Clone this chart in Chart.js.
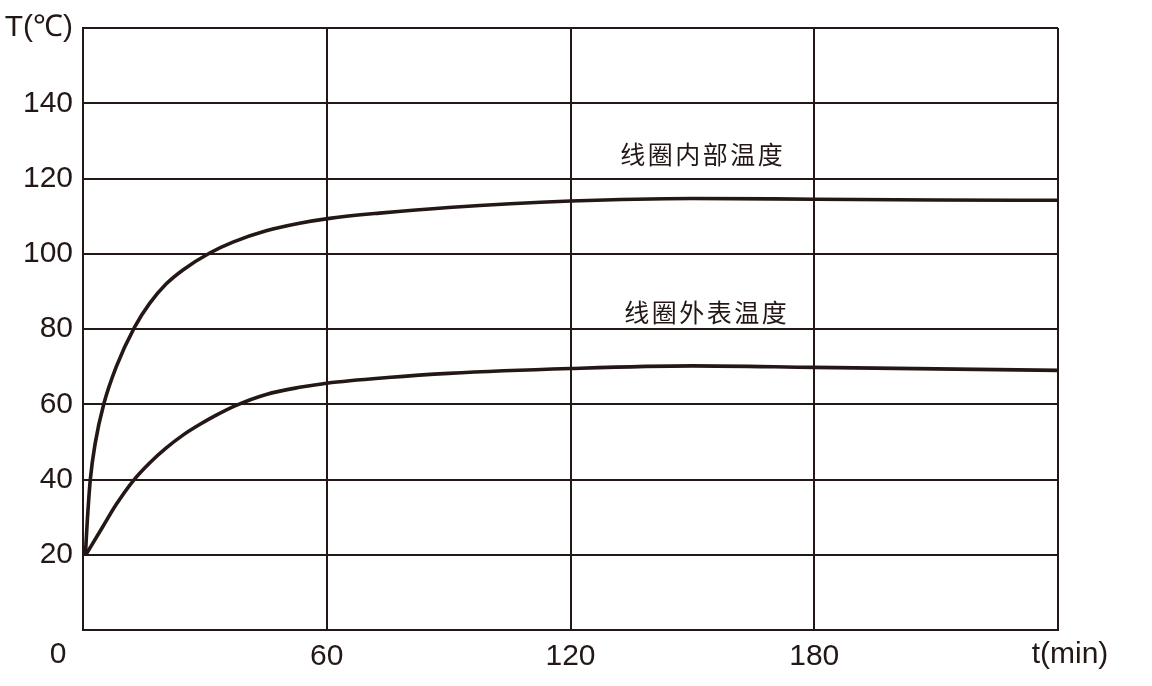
<!DOCTYPE html>
<html>
<head>
<meta charset="utf-8">
<script src="https://cdn.jsdelivr.net/npm/chart.js@4.4.1/dist/chart.umd.min.js"></script>
<style>
html,body{margin:0;padding:0;background:#fff;}
#wrap{width:1152px;height:686px;position:relative;}
</style>
</head>
<body>
<div id="wrap"><canvas id="c" width="1152" height="686"></canvas></div>
<script>
// time (min) and temperature (°C)
const innerTime = [0.6, 1.0, 1.8, 3, 5.1, 8.2, 12.7, 16.4, 20.5, 24.6, 31.2, 36.9, 45.1, 53.3, 60.7, 73, 90, 120, 150, 180, 210, 240];
const innerTemp = [20, 28, 40, 49.6, 60, 70, 80.5, 86.8, 92, 95.7, 100.2, 103.1, 106.1, 108.1, 109.4, 110.8, 112.3, 114, 114.7, 114.5, 114.3, 114.2];
const outerTime = [0.7, 4.9, 8.2, 12.3, 16.4, 20.5, 24.6, 28.7, 32.8, 37.7, 45.1, 53.3, 60, 75, 90, 120, 150, 180, 210, 240];
const outerTemp = [20, 27.5, 33.4, 39.6, 44.4, 48.4, 51.8, 54.6, 57.1, 59.7, 62.6, 64.5, 65.6, 67.1, 68.2, 69.5, 70.2, 69.8, 69.4, 69.0];
const seriesNames = ['线圈内部温度', '线圈外表温度'];
const yTicks = [0, 20, 40, 60, 80, 100, 120, 140, 160];
const xTicks = [0, 60, 120, 180, 240];
const yAxisTitle = 'T(℃)';
const xAxisTitle = 't(min)';
const originLabel = '0';

const INK = '#231815';
const FONT = '"Liberation Sans", Arial, sans-serif';

function pts(xs, ys){ return xs.map((x,i)=>({x:x, y:ys[i]})); }

const labelPlugin = {
  id: 'labels',
  afterDraw(chart){
    const ctx = chart.ctx, xs = chart.scales.x, ys = chart.scales.y;
    ctx.save();
    ctx.fillStyle = INK;
    ctx.font = '30px ' + FONT;
    ctx.textAlign = 'center';
    ctx.textBaseline = 'middle';
    const ly = ys.getPixelForValue(0) + 25;
    ctx.fillText(originLabel, xs.getPixelForValue(0) - 25, ly);
    ctx.fillText(xAxisTitle, xs.getPixelForValue(240) + 12, ly);
    // series annotations
    ctx.font = '25px "Noto Sans CJK SC", sans-serif';
    ctx.letterSpacing = '2.5px';
    const ann = [[152.3, 126.5], [153.3, 84.5]];
    seriesNames.forEach((n, i) => {
      ctx.fillText(n, xs.getPixelForValue(ann[i][0]) + 1, ys.getPixelForValue(ann[i][1]));
    });
    ctx.restore();
  }
};

new Chart(document.getElementById('c'), {
  type: 'line',
  data: {
    datasets: [
      { label: seriesNames[0], data: pts(innerTime, innerTemp), borderColor: INK, borderWidth: 3.6, pointRadius: 0, cubicInterpolationMode: 'monotone', fill: false },
      { label: seriesNames[1], data: pts(outerTime, outerTemp), borderColor: INK, borderWidth: 3.6, pointRadius: 0, cubicInterpolationMode: 'monotone', fill: false }
    ]
  },
  options: {
    responsive: false,
    animation: false,
    events: [],
    layout: { padding: { top: 25, right: 94, left: 0, bottom: 0 } },
    plugins: { legend: { display: false }, tooltip: { enabled: false } },
    scales: {
      x: {
        type: 'linear', min: 0, max: 240,
        afterBuildTicks(s){ s.ticks = xTicks.map(v => ({value: v})); },
        afterFit(s){ s.height = 56; },
        grid: { color: INK, lineWidth: 2, drawTicks: false },
        border: { color: INK, width: 2 },
        ticks: {
          color: INK, padding: 9, maxRotation: 0, autoSkip: false,
          font: { family: FONT, size: 30 },
          callback: v => (v === 0 || v === 240) ? '' : String(v)
        }
      },
      y: {
        type: 'linear', min: 0, max: 160,
        afterBuildTicks(s){ s.ticks = yTicks.map(v => ({value: v})); },
        afterFit(s){ s.width = 83; },
        grid: { color: INK, lineWidth: 2, drawTicks: false },
        border: { color: INK, width: 2 },
        ticks: {
          color: INK, padding: 10, autoSkip: false,
          font: { family: FONT, size: 30 },
          callback: v => v === 160 ? yAxisTitle : (v === 0 ? '' : String(v))
        }
      }
    }
  },
  plugins: [labelPlugin]
});
</script>
</body>
</html>
